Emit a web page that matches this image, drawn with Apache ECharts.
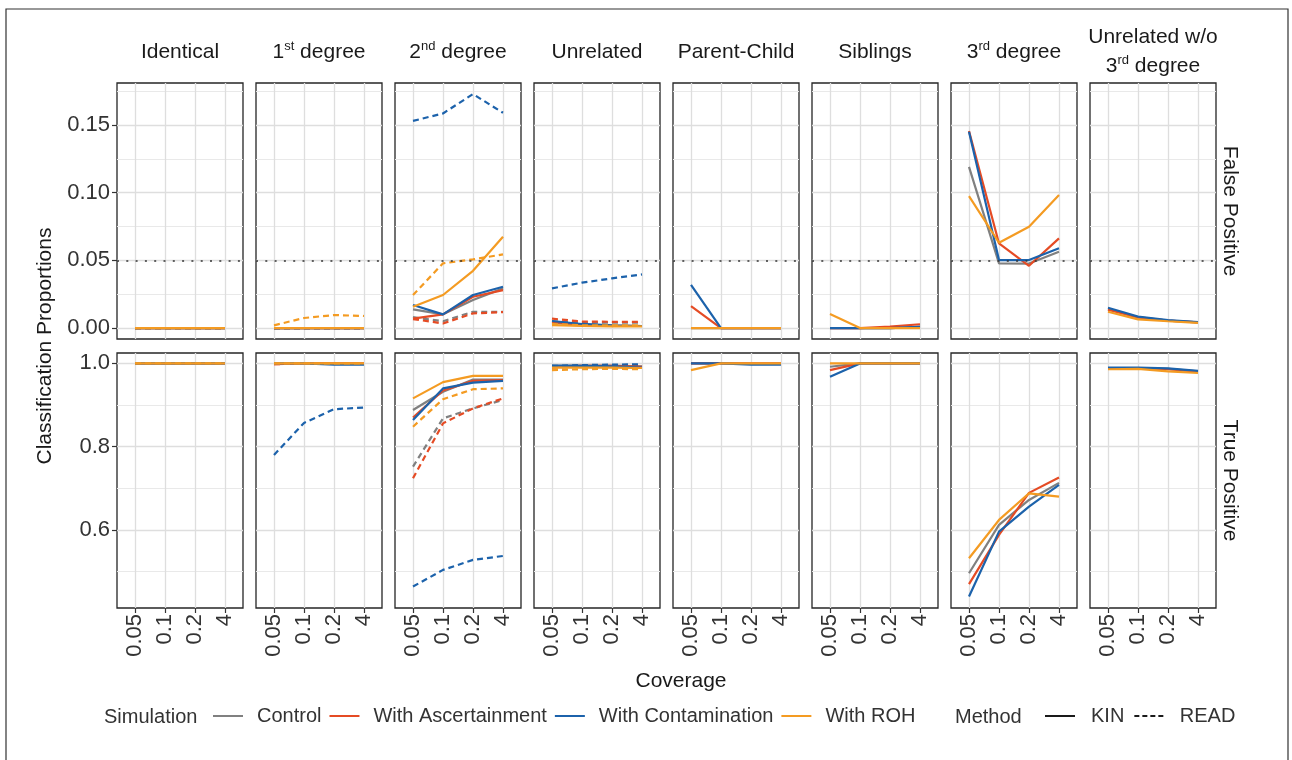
<!DOCTYPE html>
<html>
<head>
<meta charset="utf-8">
<title>Classification Proportions</title>
<script src="https://cdn.jsdelivr.net/npm/echarts@6.0.0/dist/echarts.min.js"></script>
<style>
  html, body { margin: 0; padding: 0; background: #fff; }
  #chart { width: 1292px; height: 760px; }
</style>
</head>
<body>
<div id="chart"></div>
<script>
// x categories and groupings
var coverage = ['0.05', '0.1', '0.2', '4'];
var simulations = ['Control', 'With Ascertainment', 'With Contamination', 'With ROH'];
var methods = ['KIN', 'READ'];
var simColors = ['#808080', '#e54b24', '#1c62ab', '#f49b22'];

// y ticks
var fpTicks = [0, 0.05, 0.10, 0.15];
var fpMinor = [0.025, 0.075, 0.125, 0.175];
var tpTicks = [0.6, 0.8, 1.0];
var tpMinor = [0.5, 0.7, 0.9];
var fpThreshold = 0.05;

// each array: rows = Control, Ascertainment, Contamination, ROH; cols = coverage
var identicalFpKin = [[0, 0, 0, 0], [0, 0, 0, 0], [0, 0, 0, 0], [0, 0, 0, 0]];
var identicalFpRead = [[0, 0, 0, 0], [0, 0, 0, 0], [0, 0, 0, 0], [0, 0, 0, 0]];
var identicalTpKin = [[1, 1, 1, 1], [1, 1, 1, 1], [1, 1, 1, 1], [1, 1, 1, 1]];
var identicalTpRead = [[1, 1, 1, 1], [1, 1, 1, 1], [1, 1, 1, 1], [1, 1, 1, 1]];

var firstFpKin = [[0, 0, 0, 0], [0, 0, 0, 0], [0, 0, 0, 0], [0, 0, 0, 0]];
var firstFpRead = [[0, 0, 0, 0], [0, 0, 0, 0], [0, 0, 0, 0], [0.002, 0.0074, 0.0096, 0.0089]];
var firstTpKin = [[1, 1, 0.999, 0.999], [0.998, 1, 1, 1], [1, 1, 0.997, 0.997], [1, 1, 1, 1]];
var firstTpRead = [[1, 1, 1, 1], [0.998, 1, 1, 1], [0.78, 0.857, 0.89, 0.894], [1, 1, 1, 1]];

var secondFpKin = [[0.0138, 0.0101, 0.0207, 0.0293], [0.0069, 0.0101, 0.0231, 0.028], [0.017, 0.0101, 0.0244, 0.0305], [0.0157, 0.0244, 0.0423, 0.0675]];
var secondFpRead = [[0.008, 0.005, 0.012, 0.012], [0.0066, 0.0034, 0.0108, 0.0118], [0.153, 0.1585, 0.1728, 0.159], [0.0244, 0.0478, 0.0507, 0.0544]];
var secondTpKin = [[0.888, 0.932, 0.961, 0.961], [0.87, 0.935, 0.958, 0.96], [0.864, 0.94, 0.954, 0.958], [0.916, 0.955, 0.97, 0.97]];
var secondTpRead = [[0.752, 0.868, 0.892, 0.912], [0.724, 0.856, 0.892, 0.916], [0.464, 0.504, 0.528, 0.5375], [0.848, 0.914, 0.938, 0.94]];

var unrelFpKin = [[0.004, 0.002, 0.0015, 0.0015], [0.0045, 0.0025, 0.0018, 0.0015], [0.0052, 0.003, 0.002, 0.0015], [0.0022, 0.0015, 0.0012, 0.0012]];
var unrelFpRead = [[0.005, 0.004, 0.004, 0.004], [0.0069, 0.0048, 0.0046, 0.0046], [0.0293, 0.0335, 0.0367, 0.0396], [0.003, 0.002, 0.002, 0.002]];
var unrelTpKin = [[0.994, 0.995, 0.995, 0.993], [0.993, 0.994, 0.994, 0.992], [0.995, 0.994, 0.993, 0.99], [0.99, 0.99, 0.99, 0.989]];
var unrelTpRead = [[0.993, 0.994, 0.995, 0.995], [0.99, 0.992, 0.993, 0.993], [0.994, 0.996, 0.997, 0.998], [0.984, 0.986, 0.987, 0.986]];

var pcFpKin = [[0, 0, 0, 0], [0.0162, 0, 0, 0], [0.0318, 0, 0, 0], [0, 0, 0, 0]];
var pcTpKin = [[1, 1, 0.999, 0.999], [1, 1, 1, 1], [1, 1, 0.997, 0.997], [0.984, 1, 1, 1]];

var sibFpKin = [[0, 0, 0, 0.001], [0, 0, 0.001, 0.0028], [0, 0, 0, 0.0008], [0.0103, 0, 0, 0]];
var sibTpKin = [[0.992, 1, 1, 1], [0.984, 1, 1, 1], [0.968, 1, 1, 1], [1, 1, 1, 1]];

var thirdFpKin = [[0.119, 0.0478, 0.0476, 0.0564], [0.1455, 0.0625, 0.046, 0.0662], [0.145, 0.0502, 0.0502, 0.0589], [0.0975, 0.063, 0.0748, 0.0982]];
var thirdTpKin = [[0.496, 0.612, 0.672, 0.713], [0.47, 0.588, 0.689, 0.726], [0.44, 0.596, 0.656, 0.708], [0.532, 0.624, 0.688, 0.68]];

var unrel3FpKin = [[0.014, 0.008, 0.0055, 0.0042], [0.0135, 0.0078, 0.0055, 0.0042], [0.015, 0.0084, 0.0059, 0.0044], [0.012, 0.0064, 0.005, 0.0038]];
var unrel3TpKin = [[0.989, 0.989, 0.987, 0.981], [0.988, 0.989, 0.986, 0.98], [0.99, 0.99, 0.988, 0.982], [0.986, 0.987, 0.981, 0.977]];

// panel order (READ has no estimate for the last four relationships)
var fpKin = [identicalFpKin, firstFpKin, secondFpKin, unrelFpKin, pcFpKin, sibFpKin, thirdFpKin, unrel3FpKin];
var fpRead = [identicalFpRead, firstFpRead, secondFpRead, unrelFpRead, null, null, null, null];
var tpKin = [identicalTpKin, firstTpKin, secondTpKin, unrelTpKin, pcTpKin, sibTpKin, thirdTpKin, unrel3TpKin];
var tpRead = [identicalTpRead, firstTpRead, secondTpRead, unrelTpRead, null, null, null, null];

var colTitles = ['{b|Identical}', '{b|1}{s|st}{b| degree}', '{b|2}{s|nd}{b| degree}', '{b|Unrelated}',
  '{b|Parent-Child}', '{b|Siblings}', '{b|3}{s|rd}{b| degree}', '{b|Unrelated w/o}'];
var rowTitles = ['False Positive', 'True Positive'];

// layout
var FONT = '"Liberation Sans", Arial, sans-serif';
var panelLeft = 117, panelStep = 139, panelW = 126;
var rowTop = [83, 353], rowH = [256, 255];
var yRange = [[-0.0081, 0.181], [0.4125, 1.025]];

var grids = [], xAxes = [], yAxes = [], series = [];

for (var r = 0; r < 2; r++) {
  for (var c = 0; c < 8; c++) {
    var gi = grids.length;
    grids.push({
      left: panelLeft + c * panelStep, top: rowTop[r], width: panelW, height: rowH[r],
      show: true, borderColor: '#262626', borderWidth: 1.3, backgroundColor: '#fff',
      outerBoundsMode: 'none'
    });
    xAxes.push({
      gridIndex: gi, type: 'value', min: -0.6, max: 3.6,
      axisLine: { show: false },
      axisTick: { show: r === 1, customValues: [0, 1, 2, 3], length: 5, lineStyle: { color: '#333', width: 1.2 } },
      axisLabel: {
        show: r === 1, customValues: [0, 1, 2, 3], rotate: 90, margin: 6,
        fontSize: 22, fontFamily: FONT, color: '#333',
        formatter: function (v) { return coverage[Math.round(v)]; }
      },
      splitLine: { show: true, lineStyle: { color: '#dedede', width: 1.3 } }
    });
    var ticks = r === 0 ? fpTicks : tpTicks;
    var minors = r === 0 ? fpMinor : tpMinor;
    var digits = r === 0 ? 2 : 1;
    // minor grid lines
    yAxes.push({
      gridIndex: gi, type: 'value', min: yRange[r][0], max: yRange[r][1], position: 'right',
      axisLine: { show: false },
      axisTick: { show: false, customValues: minors },
      axisLabel: { show: false, customValues: minors },
      splitLine: { show: true, lineStyle: { color: '#e9e9e9', width: 1 } }
    });
    var yi = yAxes.length;
    yAxes.push({
      gridIndex: gi, type: 'value', min: yRange[r][0], max: yRange[r][1], position: 'left',
      axisLine: { show: false },
      axisTick: { show: c === 0, customValues: ticks, length: 5, lineStyle: { color: '#333', width: 1.2 } },
      axisLabel: {
        show: c === 0, customValues: ticks, margin: 7,
        fontSize: 22, fontFamily: FONT, color: '#333',
        formatter: (function (d) { return function (v) { return v.toFixed(d); }; })(digits)
      },
      splitLine: { show: true, lineStyle: { color: '#dedede', width: 1.3 } }
    });

    var kin = r === 0 ? fpKin[c] : tpKin[c];
    var read = r === 0 ? fpRead[c] : tpRead[c];
    for (var s = 0; s < simulations.length; s++) {
      for (var m = 0; m < methods.length; m++) {
        var vals = m === 0 ? kin[s] : (read ? read[s] : null);
        if (!vals) continue;
        var ser = {
          name: simulations[s], type: 'line',
          xAxisIndex: gi, yAxisIndex: yi,
          data: vals.map(function (v, k) { return [k, v]; }),
          symbol: 'none', showSymbol: false, silent: true,
          color: simColors[s],
          lineStyle: { color: simColors[s], width: 2.2, type: m === 0 ? 'solid' : [6, 4] },
          z: 3
        };
        if (r === 0 && s === 0 && m === 0) {
          ser.markLine = {
            silent: true, symbol: 'none', label: { show: false },
            lineStyle: { color: '#333', width: 1.6, type: [2, 7.3] },
            emphasis: { disabled: true },
            data: [{ yAxis: fpThreshold }]
          };
        }
        series.push(ser);
      }
    }
  }
}

// series that only feed the "Method" legend
series.push({ name: 'KIN', type: 'line', xAxisIndex: 0, yAxisIndex: 1, data: [], symbol: 'none', color: '#1a1a1a',
  lineStyle: { color: '#1a1a1a', width: 2, type: 'solid' } });
series.push({ name: 'READ', type: 'line', xAxisIndex: 0, yAxisIndex: 1, data: [], symbol: 'none', color: '#1a1a1a',
  lineStyle: { color: '#1a1a1a', width: 2, type: [4, 4] } });

var richTitle = {
  b: { fontSize: 21, fontFamily: FONT, fill: '#1a1a1a', lineHeight: 24 },
  s: { fontSize: 13, fontFamily: FONT, fill: '#1a1a1a', verticalAlign: 'top', lineHeight: 14 }
};
var centered = { align: 'center', verticalAlign: 'middle', textAlign: 'center', textVerticalAlign: 'middle' };
function textStyle(extra) {
  var st = { fontSize: 21, fontFamily: FONT, fill: '#1a1a1a' };
  for (var k in centered) st[k] = centered[k];
  for (var e in extra) st[e] = extra[e];
  return st;
}

var graphics = [];
graphics.push({ type: 'rect', shape: { x: 6, y: 9, width: 1282, height: 770 },
  style: { fill: 'none', stroke: '#333', lineWidth: 1.2 }, silent: true });
colTitles.forEach(function (t, c) {
  graphics.push({ type: 'text', x: panelLeft + c * panelStep + panelW / 2, y: c === 7 ? 37 : 52,
    style: textStyle({ text: t, rich: richTitle }) });
});
graphics.push({ type: 'text', x: panelLeft + 7 * panelStep + panelW / 2, y: 66,
  style: textStyle({ text: '{b|3}{s|rd}{b| degree}', rich: richTitle }) });
rowTitles.forEach(function (t, r) {
  graphics.push({ type: 'text', x: 1230, y: rowTop[r] + rowH[r] / 2, rotation: -Math.PI / 2,
    style: textStyle({ text: t }) });
});
graphics.push({ type: 'text', x: 45, y: 346, rotation: Math.PI / 2,
  style: textStyle({ text: 'Classification Proportions' }) });
graphics.push({ type: 'text', x: 681, y: 681, style: textStyle({ text: 'Coverage' }) });
graphics.push({ type: 'text', x: 104, y: 717,
  style: textStyle({ text: 'Simulation', fontSize: 20, fill: '#333', align: 'left', textAlign: 'left' }) });
graphics.push({ type: 'text', x: 955, y: 717,
  style: textStyle({ text: 'Method', fontSize: 20, fill: '#333', align: 'left', textAlign: 'left' }) });

var dashIcon = 'path://M0,0h5v2h-5z M8,0h5v2h-5z M16,0h5v2h-5z M24,0h5v2h-5z';

var option = {
  animation: false,
  backgroundColor: '#fff',
  grid: grids,
  xAxis: xAxes,
  yAxis: yAxes,
  series: series,
  graphic: graphics,
  legend: [
    {
      left: 213, top: 706, padding: 0, itemWidth: 30, itemHeight: 2, itemGap: 8,
      selectedMode: false, orient: 'horizontal',
      textStyle: { fontSize: 20, fontFamily: FONT, color: '#333', padding: [0, 0, 0, 9] },
      data: simulations.map(function (s, k) {
        return { name: s, icon: 'rect', itemStyle: { color: simColors[k], borderWidth: 0 } };
      })
    },
    {
      left: 1045, top: 706, padding: 0, itemWidth: 30, itemHeight: 2, itemGap: 10,
      selectedMode: false, orient: 'horizontal',
      textStyle: { fontSize: 20, fontFamily: FONT, color: '#333', padding: [0, 0, 0, 11] },
      data: [
        { name: 'KIN', icon: 'rect', itemStyle: { color: '#1a1a1a', borderWidth: 0 } },
        { name: 'READ', icon: dashIcon, itemStyle: { color: '#1a1a1a', borderWidth: 0 } }
      ]
    }
  ]
};

var myChart = echarts.init(document.getElementById('chart'));
myChart.setOption(option);
</script>
</body>
</html>
